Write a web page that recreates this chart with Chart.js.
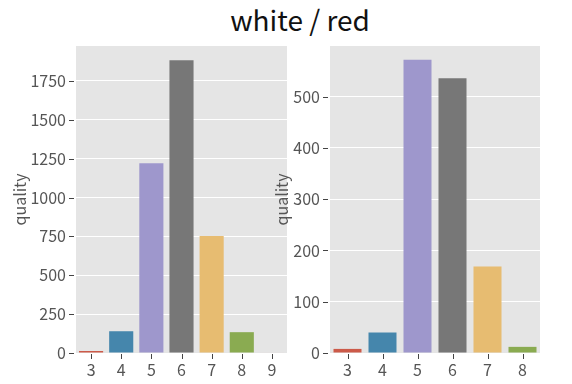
<!DOCTYPE html>
<html>
<head>
<meta charset="utf-8">
<script src="https://cdn.jsdelivr.net/npm/chart.js@4"></script>
<style>
  body { margin: 0; background: #fff; }
  #wrap { position: relative; width: 572px; height: 384px; overflow: hidden; }
  #title { position: absolute; left: 0; top: 0; width: 600px; text-align: center;
           font: 28px "Noto Sans CJK JP", "Noto Sans", sans-serif; color: #111; line-height: 38px; }
  canvas { position: absolute; top: 0; }
</style>
</head>
<body>
<div id="wrap">
  <div id="title">white / red</div>
  <canvas id="white" width="290" height="384" style="left:0"></canvas>
  <canvas id="red" width="310" height="384" style="left:262px"></canvas>
</div>
<script>
// ===== Data =====
const whiteQuality = ['3', '4', '5', '6', '7', '8', '9'];
const whiteCounts = [13, 140, 1221, 1883, 752, 134, 3];
const whiteTicks = [0, 250, 500, 750, 1000, 1250, 1500, 1750];

const redQuality = ['3', '4', '5', '6', '7', '8'];
const redCounts = [8, 40, 572, 536, 169, 12];
const redTicks = [0, 100, 200, 300, 400, 500];

// seaborn ggplot palette, desaturated
const palette = ['#cc5a49', '#4586ac', '#9e97cc', '#777777', '#e7bc71', '#8aab51', '#f6bec1'];

const FONT = '"Noto Sans CJK JP", "Noto Sans", sans-serif';
const TICK_FONT = '"Liberation Sans Narrow", "Noto Sans CJK JP", sans-serif';

// grey panel behind the bars
const panelBg = {
    id: 'panelBg',
    beforeDraw(chart) {
        const a = chart.chartArea, ctx = chart.ctx;
        ctx.save();
        ctx.fillStyle = '#e5e5e5';
        ctx.fillRect(a.left, a.top, a.right - a.left, a.bottom - a.top);
        ctx.restore();
    }
};

// small outward tick marks like matplotlib
const tickMarks = {
    id: 'tickMarks',
    afterDraw(chart) {
        const a = chart.chartArea, ctx = chart.ctx;
        const xs = chart.scales.x, ys = chart.scales.y;
        ctx.save();
        ctx.strokeStyle = '#444';
        ctx.lineWidth = 1;
        ctx.beginPath();
        xs.ticks.forEach((t, i) => {
            const px = Math.round(xs.getPixelForTick(i)) + 0.5;
            ctx.moveTo(px, a.bottom + 1);
            ctx.lineTo(px, a.bottom + 6);
        });
        ys.ticks.forEach(t => {
            const py = Math.round(ys.getPixelForValue(t.value)) + 0.5;
            ctx.moveTo(a.left - 7, py);
            ctx.lineTo(a.left - 2, py);
        });
        ctx.stroke();
        ctx.restore();
    }
};

function makeChart(id, labels, counts, ticks, yMax, yWidth, padRight) {
    return new Chart(document.getElementById(id), {
        type: 'bar',
        data: {
            labels: labels,
            datasets: [{
                data: counts,
                backgroundColor: palette.slice(0, labels.length),
                borderWidth: 0,
                categoryPercentage: 0.8,
                barPercentage: 1
            }]
        },
        options: {
            responsive: false,
            animation: false,
            layout: { padding: { top: 46, right: padRight, left: 0, bottom: 0 } },
            plugins: { legend: { display: false }, tooltip: { enabled: false } },
            scales: {
                x: {
                    grid: { display: true, drawOnChartArea: false, offset: false,
                            tickColor: 'rgba(0,0,0,0)', tickLength: 6 },
                    border: { display: false },
                    ticks: { color: '#555', font: { family: TICK_FONT, size: 16 }, padding: 1 },
                    afterFit(s) { s.height = 31; }
                },
                y: {
                    min: 0,
                    max: yMax,
                    grid: { color: '#ffffff', lineWidth: 1,
                            tickColor: 'rgba(0,0,0,0)', tickLength: 6 },
                    border: { display: false },
                    ticks: { color: '#555', font: { family: TICK_FONT, size: 16 }, padding: 4,
                             callback: v => String(v) },
                    title: { display: true, text: 'quality', color: '#555',
                             font: { family: FONT, size: 16 }, padding: { top: 10 } },
                    afterBuildTicks(s) { s.ticks = ticks.map(v => ({ value: v })); },
                    afterFit(s) { s.width = yWidth; }
                }
            }
        },
        plugins: [panelBg, tickMarks]
    });
}

makeChart('white', whiteQuality, whiteCounts, whiteTicks, 1975, 76, 3);
makeChart('red', redQuality, redCounts, redTicks, 599, 68, 32);
</script>
</body>
</html>
